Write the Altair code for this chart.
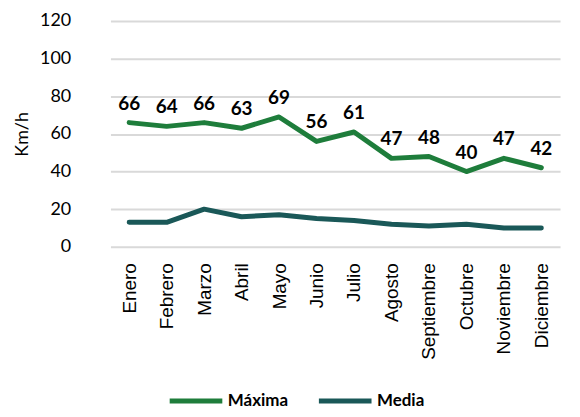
import altair as alt
import pandas as pd

months = ["Enero", "Febrero", "Marzo", "Abril", "Mayo", "Junio", "Julio",
          "Agosto", "Septiembre", "Octubre", "Noviembre", "Diciembre"]
maxima = [66, 64, 66, 63, 69, 56, 61, 47, 48, 40, 47, 42]
media = [13, 13, 20, 16, 17, 15, 14, 12, 11, 12, 10, 10]
series_names = ["Máxima", "Media"]
colors = ["#1e7d3b", "#1a5858"]
y_ticks = [0, 20, 40, 60, 80, 100, 120]

rows = []
for i, m in enumerate(months):
    rows.append({"mes": m, "serie": "Máxima", "valor": maxima[i]})
    rows.append({"mes": m, "serie": "Media", "valor": media[i]})
df = pd.DataFrame(rows)

x = alt.X("mes:N", sort=months, title=None,
          scale=alt.Scale(type="point", range=[20, 472]),
          axis=alt.Axis(labelAngle=-90, labelFont="Liberation Sans", labelFontSize=19,
                        labelColor="#000000", ticks=False, domain=False,
                        labelPadding=16, grid=False, labelOverlap=False))
y = alt.Y("valor:Q", title="Km/h",
          scale=alt.Scale(domain=[0, 120]),
          axis=alt.Axis(values=y_ticks, tickCount=7, labelFont="Lato",
                        labelFontSize=18, labelColor="#000000", labelPadding=20,
                        labelOverlap=False,
                        ticks=False, domain=False, gridColor="#d9d9d9", gridWidth=2,
                        titleFont="Lato", titleFontSize=18, titleFontWeight="normal",
                        titleColor="#000000", titlePadding=8))

color = alt.Color("serie:N", scale=alt.Scale(domain=series_names, range=colors),
                  legend=alt.Legend(title=None, orient="none", direction="horizontal",
                                    legendX=77, legendY=353, symbolType="stroke",
                                    symbolSize=2800, symbolStrokeWidth=5,
                                    labelFont="Lato", labelFontSize=17,
                                    labelFontWeight="bold", labelColor="#000000",
                                    labelOffset=3, columnPadding=20))

lines = alt.Chart(df).mark_line(strokeWidth=5, strokeCap="round", strokeJoin="round").encode(
    x=x, y=y, color=color)

labels = alt.Chart(df).transform_filter(alt.datum.serie == "Máxima").mark_text(
    font="Lato", fontSize=19, fontWeight="bold", color="#000000",
    baseline="bottom", dy=-9).encode(
    x=x, y=y, text=alt.Text("valor:Q"))

chart = alt.layer(lines, labels).properties(
    width=484, height=227,
    autosize=alt.AutoSizeParams(type="none"),
    padding={"left": 83, "top": 12, "right": 0, "bottom": 162},
).configure_view(stroke=None)

chart.save("out.html", embed_options={"renderer": "svg", "actions": False})
